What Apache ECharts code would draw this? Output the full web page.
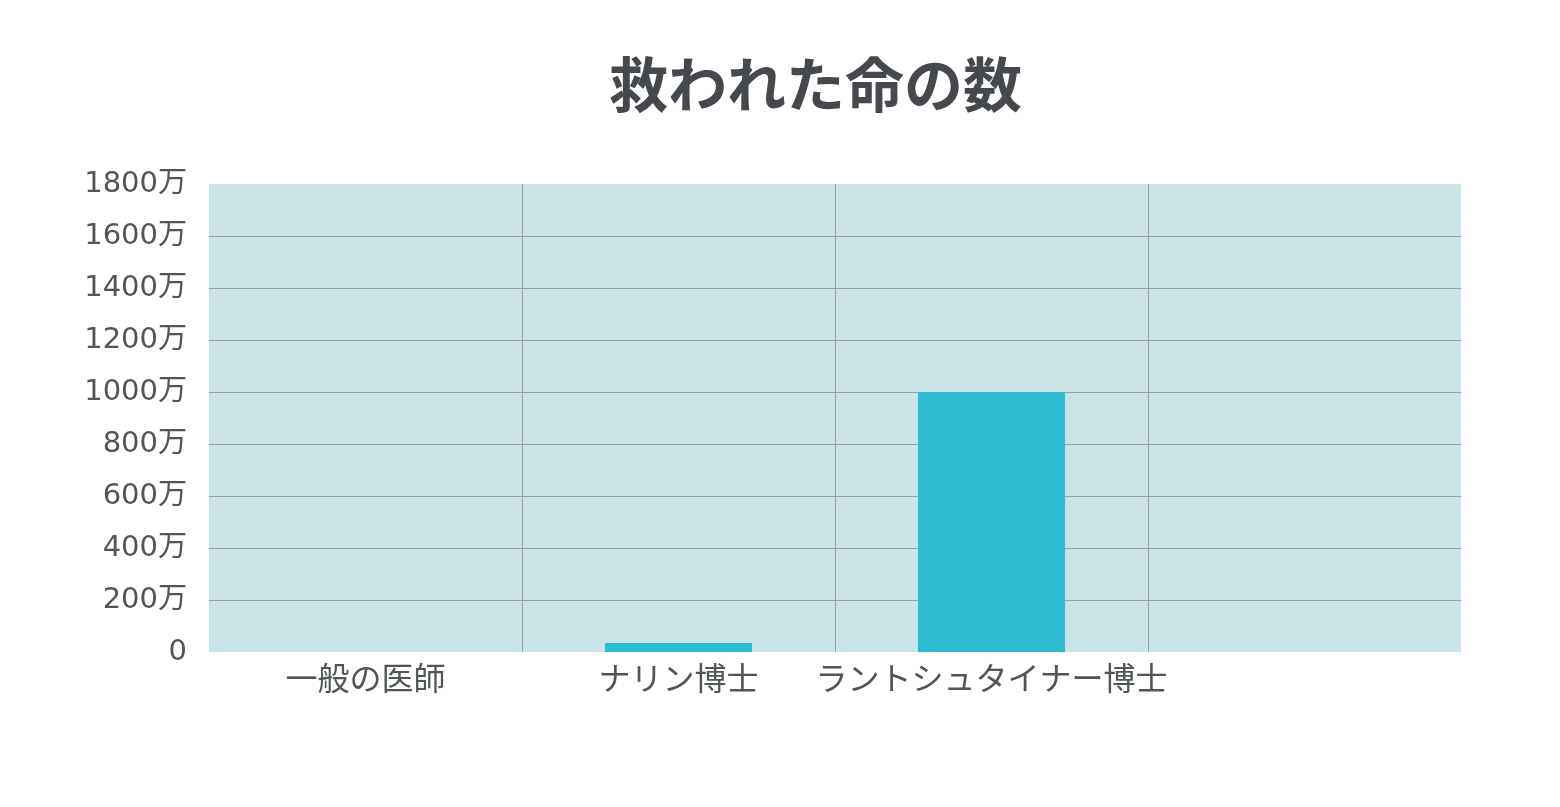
<!DOCTYPE html>
<html>
<head>
<meta charset="utf-8">
<script src="https://cdn.jsdelivr.net/npm/echarts@6/dist/echarts.min.js"></script>
<style>
html,body{margin:0;padding:0;background:#fff;}
#chart{width:1560px;height:807px;}
</style>
</head>
<body>
<div id="chart"></div>
<script>
var titleText = '救われた命の数';
var categories = ['一般の医師', 'ナリン博士', 'ラントシュタイナー博士', ''];
var savedLives = [0, 35, 1000, null]; // 単位: 万
var yTicks = [0, 200, 400, 600, 800, 1000, 1200, 1400, 1600, 1800];

var chart = echarts.init(document.getElementById('chart'));
var fontFam = '"Noto Sans CJK JP", "Noto Sans", sans-serif';
var numFam = '"DejaVu Sans", "Noto Sans CJK JP", sans-serif';
var grid = '#9a9fa3';
chart.setOption({
  animation: false,
  title: {
    text: titleText,
    left: 604,
    top: 50,
    textStyle: {fontFamily: fontFam, fontSize: 59, fontWeight: 'bold', color: '#45494d'}
  },
  grid: {
    left: 209, right: 99, top: 184, bottom: 155,
    show: true, backgroundColor: '#cbe4e8', borderWidth: 0
  },
  xAxis: {
    type: 'category',
    data: categories,
    boundaryGap: true,
    axisLine: {show: false},
    axisTick: {show: false},
    axisLabel: {fontFamily: fontFam, fontSize: 32, color: '#505558', margin: 10, interval: 0},
    splitLine: {show: true, lineStyle: {color: ['transparent', grid, grid, grid, 'transparent'], width: 1}}
  },
  yAxis: {
    type: 'value',
    min: yTicks[0],
    max: yTicks[yTicks.length - 1],
    interval: yTicks[1] - yTicks[0],
    axisLine: {show: false},
    axisTick: {show: false},
    axisLabel: {
      fontFamily: numFam, fontSize: 29, color: '#505558', margin: 22,
      formatter: function (v) { return v === 0 ? '0' : v + '万'; }
    },
    splitLine: {show: true, lineStyle: {color: ['transparent', grid, grid, grid, grid, grid, grid, grid, grid, 'transparent'], width: 1}}
  },
  series: [{
    type: 'bar',
    data: savedLives,
    barWidth: '47%',
    itemStyle: {color: '#2dbcd2'}
  }]
});
</script>
</body>
</html>
